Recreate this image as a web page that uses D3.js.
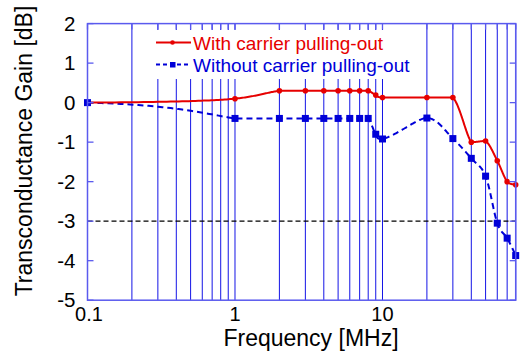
<!DOCTYPE html>
<html>
<head>
<meta charset="utf-8">
<script src="https://cdn.jsdelivr.net/npm/d3@7"></script>
<style>
  html, body { margin: 0; padding: 0; background: #fff; }
  svg { display: block; }
  text { font-family: "Liberation Sans", Arial, sans-serif; }
</style>
</head>
<body>
<svg id="chart" width="521" height="356"></svg>
<script>
// Measured frequencies (MHz) and gain (dB) for the two circuit variants
const freqs = [0.1, 1, 2, 3, 4, 5, 6, 7, 8, 9, 10, 20, 30, 40, 50, 60, 70, 80];
const withPullOut    = [0, 0.1, 0.3, 0.3, 0.3, 0.3, 0.3, 0.3, 0.3, 0.19, 0.13, 0.13, 0.13, -1.0, -0.97, -1.47, -2.0, -2.08];
const withoutPullOut = [0, -0.4, -0.4, -0.4, -0.4, -0.4, -0.4, -0.4, -0.4, -0.8, -0.92, -0.39, -0.91, -1.41, -1.86, -3.05, -3.43, -3.87];

const seriesNames = ["With carrier pulling-out", "Without carrier pulling-out"];
const yTicks = [-5, -4, -3, -2, -1, 0, 1, 2];
const xTickLabels = [0.1, 1, 10];
const cutoffLevel = -3;

const RED = "#e60000";
const BLUE = "#0000d8";

const svg = d3.select("#chart");

const x = d3.scaleLog().domain([0.1, 80]).range([87.5, 515.7]);
const y = d3.scaleLinear().domain([-5, 2]).range([300.2, 23.6]);

// vertical log grid: 1..9 in every decade up to the axis end
const gridVals = [];
for (let dec = 0.1; dec < 100; dec *= 10) {
  for (let m = 1; m <= 9; m++) {
    const v = +(m * dec).toPrecision(3);
    if (v >= 0.1 && v <= 80) gridVals.push(v);
  }
}

svg.append("g").selectAll("line").data(gridVals).join("line")
  .attr("x1", d => x(d)).attr("x2", d => x(d))
  .attr("y1", y(2)).attr("y2", y(-5))
  .attr("stroke", "#1414e6").attr("stroke-width", 1);

// -3 dB reference line
svg.append("line")
  .attr("x1", x(0.1)).attr("x2", x(80))
  .attr("y1", y(cutoffLevel)).attr("y2", y(cutoffLevel))
  .attr("stroke", "#000").attr("stroke-width", 1.2)
  .attr("stroke-dasharray", "5,3");

// legend background
svg.append("rect")
  .attr("x", 146).attr("y", 30).attr("width", 275).attr("height", 49)
  .attr("fill", "#fff");

// Smooth curve through the points, built in linear frequency / dB space:
// Catmull-Rom tangents, with control points kept inside each segment's
// range so the curve never overshoots a measured value.
function smoothPath(xs, ys) {
  const n = xs.length;
  const clamp = (v, a, b) => Math.max(Math.min(a, b), Math.min(Math.max(a, b), v));
  const out = [];
  const steps = 40;
  for (let i = 0; i < n - 1; i++) {
    const i0 = Math.max(i - 1, 0), i3 = Math.min(i + 2, n - 1);
    const x1 = xs[i], y1 = ys[i], x2 = xs[i + 1], y2 = ys[i + 1];
    const c1x = clamp(x1 + (x2 - xs[i0]) / 6, x1, x2);
    const c1y = clamp(y1 + (y2 - ys[i0]) / 6, y1, y2);
    const c2x = clamp(x2 - (xs[i3] - x1) / 6, x1, x2);
    const c2y = clamp(y2 - (ys[i3] - y1) / 6, y1, y2);
    for (let k = (i === 0 ? 0 : 1); k <= steps; k++) {
      const t = k / steps, u = 1 - t;
      const a = u * u * u, b = 3 * u * u * t, c = 3 * u * t * t, d = t * t * t;
      out.push([x(a * x1 + b * c1x + c * c2x + d * x2), y(a * y1 + b * c1y + c * c2y + d * y2)]);
    }
  }
  return d3.line()(out);
}

const plot = svg.append("g");

plot.append("path")
  .attr("d", smoothPath(freqs, withoutPullOut))
  .attr("fill", "none").attr("stroke", BLUE).attr("stroke-width", 2)
  .attr("stroke-dasharray", "6,4");

plot.append("path")
  .attr("d", smoothPath(freqs, withPullOut))
  .attr("fill", "none").attr("stroke", RED).attr("stroke-width", 2)
  .attr("stroke-linejoin", "round");

const sq = 7;
plot.append("g").selectAll("rect").data(freqs.map((f, i) => [f, withoutPullOut[i]])).join("rect")
  .attr("x", d => x(d[0]) - sq / 2).attr("y", d => y(d[1]) - sq / 2)
  .attr("width", sq).attr("height", sq).attr("fill", BLUE);

plot.append("g").selectAll("circle").data(freqs.map((f, i) => [f, withPullOut[i]]).slice(1)).join("circle")
  .attr("cx", d => x(d[0])).attr("cy", d => y(d[1])).attr("r", 2.8).attr("fill", RED);

// plot frame
const frameColor = "#5a5aee";
svg.append("rect")
  .attr("x", x(0.1)).attr("y", y(2))
  .attr("width", x(80) - x(0.1)).attr("height", y(-5) - y(2))
  .attr("fill", "none").attr("stroke", frameColor).attr("stroke-width", 1.5);

// inward ticks: top at grid positions, left/right at integer dB
const tk = 6;
const ticks = svg.append("g").attr("stroke", frameColor).attr("stroke-width", 1.3);
ticks.selectAll(".tt").data(gridVals).join("line").attr("class", "tt")
  .attr("x1", d => x(d)).attr("x2", d => x(d)).attr("y1", y(2)).attr("y2", y(2) + tk);
ticks.selectAll(".tl").data(yTicks).join("line").attr("class", "tl")
  .attr("x1", x(0.1)).attr("x2", x(0.1) + tk).attr("y1", d => y(d)).attr("y2", d => y(d));
ticks.selectAll(".tr").data(yTicks).join("line").attr("class", "tr")
  .attr("x1", x(80)).attr("x2", x(80) - tk).attr("y1", d => y(d)).attr("y2", d => y(d));

// tick labels
svg.append("g").selectAll("text").data(yTicks).join("text")
  .attr("x", 75.5).attr("y", d => y(d) + 7)
  .attr("text-anchor", "end").attr("font-size", 20.5).attr("fill", "#000")
  .text(d => d);

svg.append("g").selectAll("text").data(xTickLabels).join("text")
  .attr("x", (d, i) => x(d) + (i === 0 ? 1.5 : 0)).attr("y", 320.5)
  .attr("text-anchor", "middle").attr("font-size", 20).attr("fill", "#000")
  .text(d => d);

// axis titles
svg.append("text")
  .attr("x", 311).attr("y", 345.5)
  .attr("text-anchor", "middle").attr("font-size", 23).attr("fill", "#000")
  .text("Frequency [MHz]");

svg.append("text")
  .attr("transform", "translate(32,151) rotate(-90)")
  .attr("text-anchor", "middle").attr("font-size", 23).attr("fill", "#000")
  .text("Transconductance Gain [dB]");

// legend
const lg = svg.append("g");
lg.append("line").attr("x1", 156).attr("x2", 191).attr("y1", 42.5).attr("y2", 42.5)
  .attr("stroke", RED).attr("stroke-width", 2);
lg.append("circle").attr("cx", 172.5).attr("cy", 42.5).attr("r", 2.3).attr("fill", RED);
lg.append("text").attr("x", 193).attr("y", 50).attr("font-size", 19).attr("fill", RED)
  .text(seriesNames[0]);

lg.append("line").attr("x1", 156).attr("x2", 191).attr("y1", 64.5).attr("y2", 64.5)
  .attr("stroke", BLUE).attr("stroke-width", 2).attr("stroke-dasharray", "4,3");
lg.append("rect").attr("x", 170).attr("y", 62).attr("width", 5.5).attr("height", 5.5).attr("fill", BLUE);
lg.append("text").attr("x", 193).attr("y", 72).attr("font-size", 19).attr("fill", BLUE)
  .text(seriesNames[1]);
</script>
</body>
</html>
